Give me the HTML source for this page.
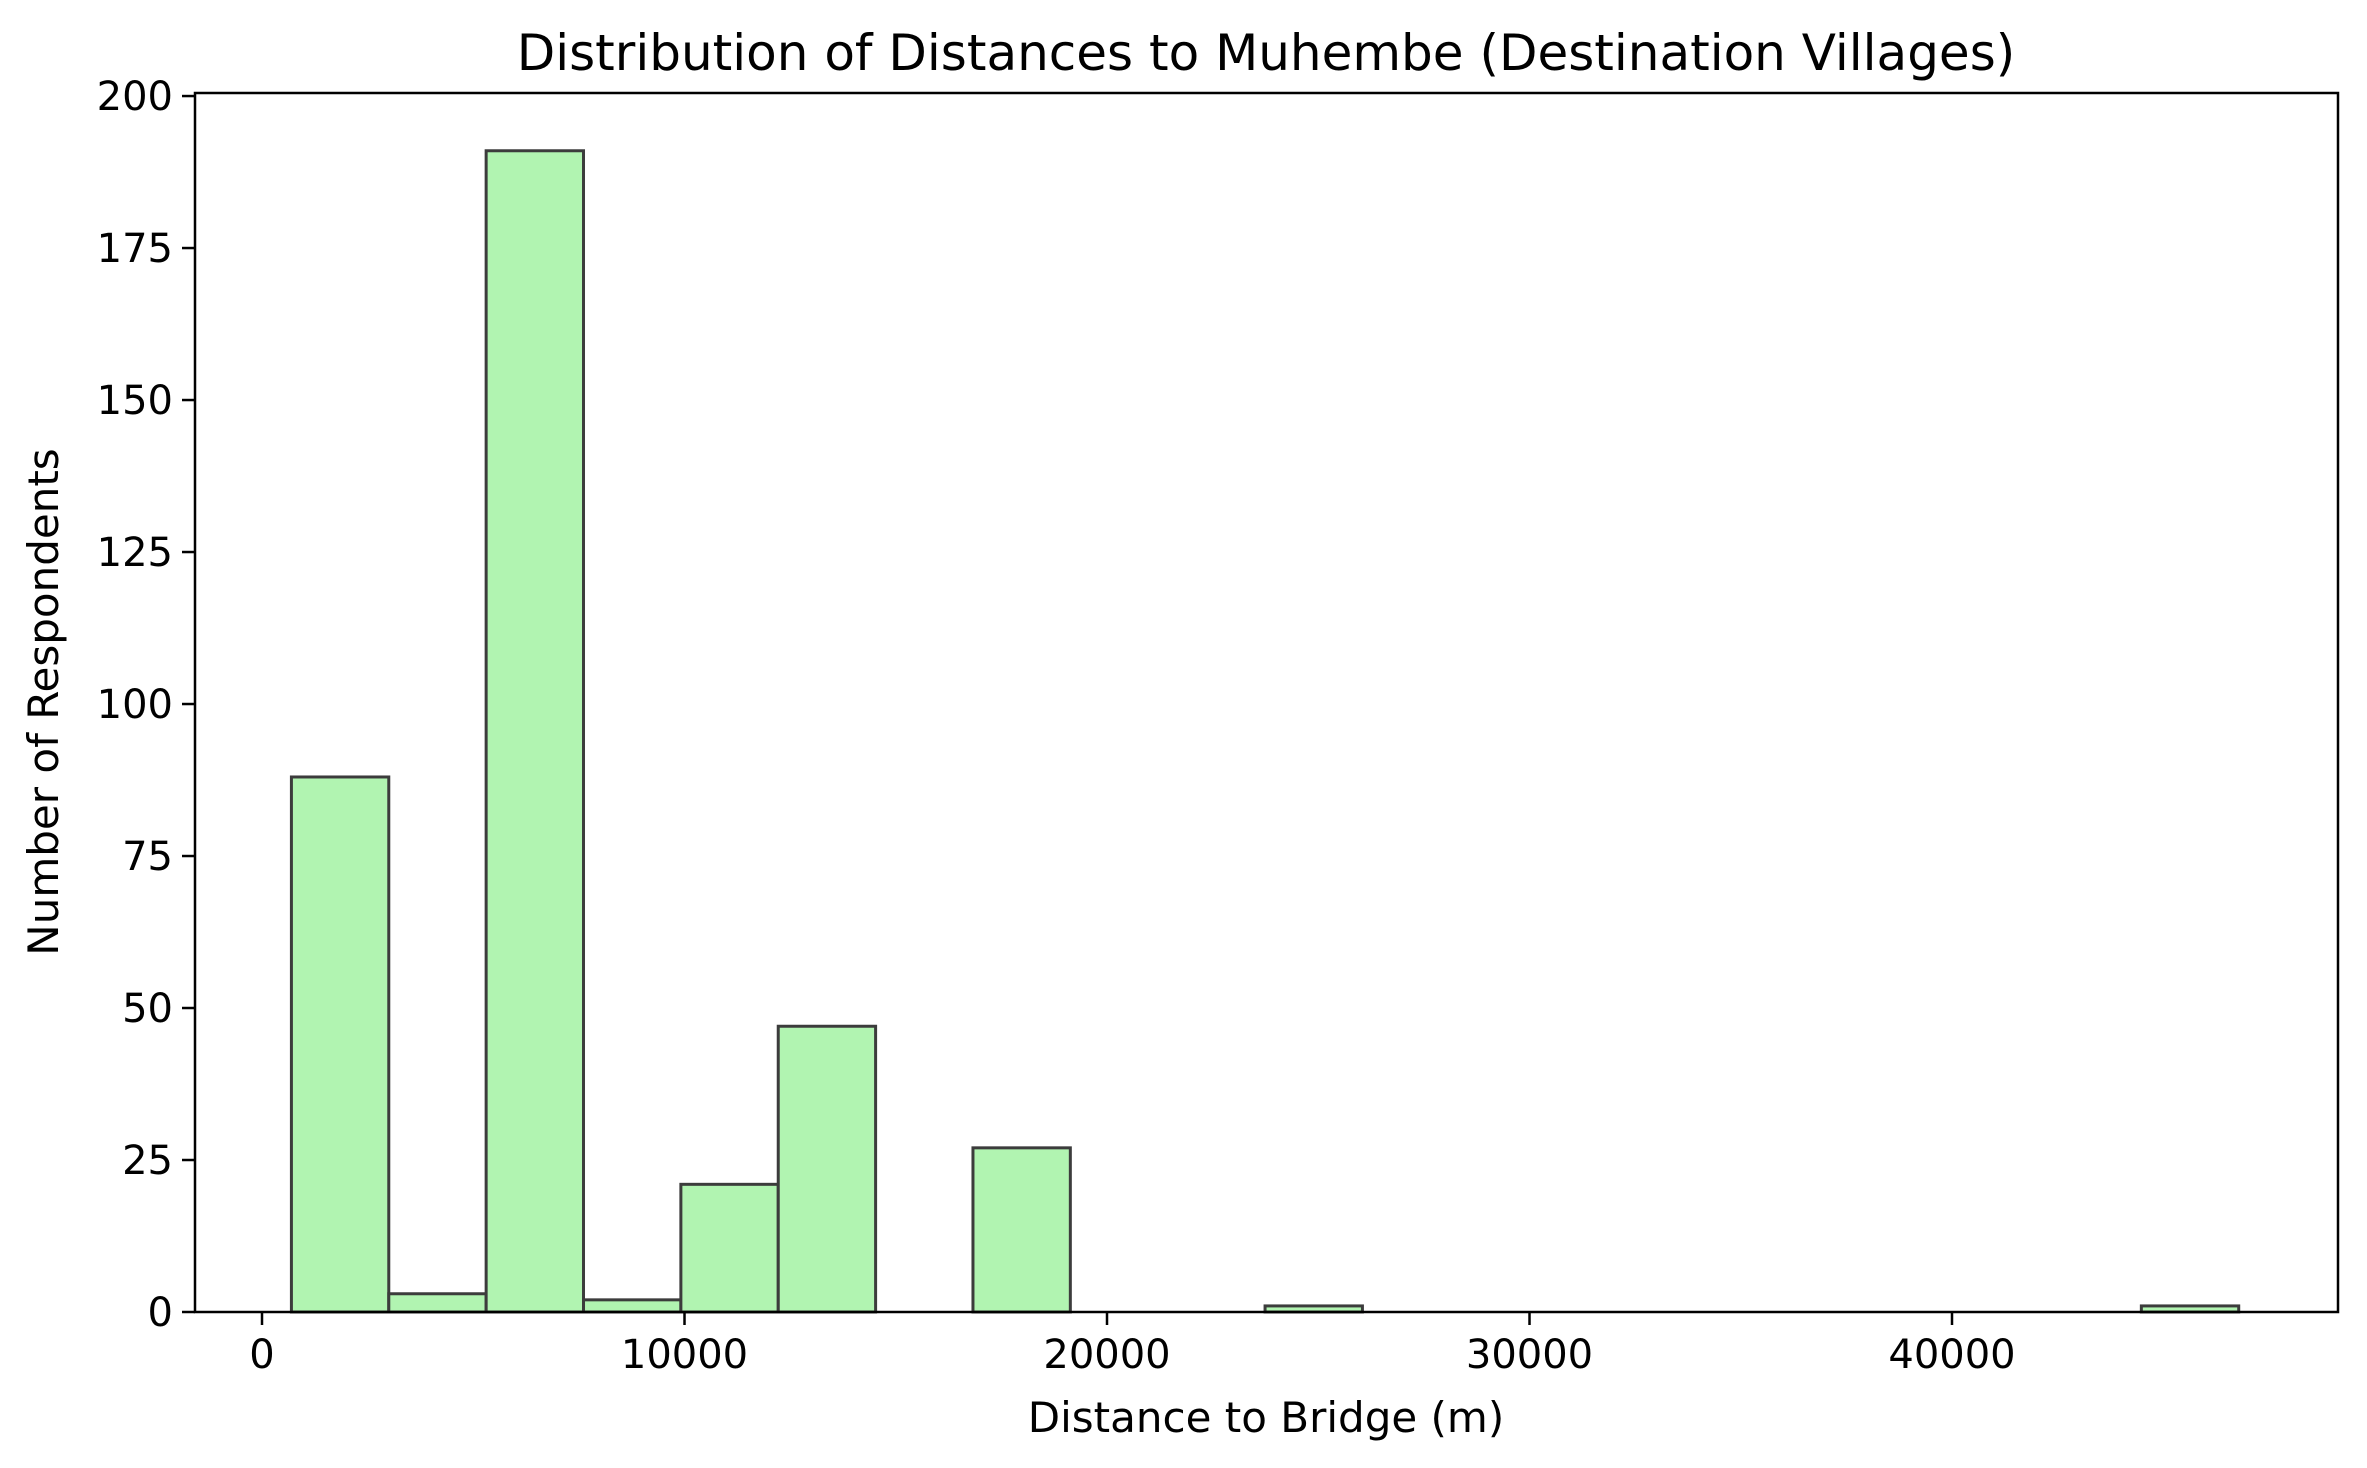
<!DOCTYPE html>
<html><head><meta charset="utf-8"><style>
html,body{margin:0;padding:0;background:#fff;}
svg{display:block;font-family:"DejaVu Sans","Liberation Sans",sans-serif;}
</style></head><body>
<svg id="chart" width="2367" height="1468" viewBox="0 0 2367 1468">
<rect width="2367" height="1468" fill="#fff"/>
<g id="bars"></g>
<g id="axes"></g>
<text x="1266" y="70" text-anchor="middle" font-size="50">Distribution of Distances to Muhembe (Destination Villages)</text>
<text x="1266" y="1432" text-anchor="middle" font-size="42">Distance to Bridge (m)</text>
<text transform="translate(58,702) rotate(-90)" text-anchor="middle" font-size="42">Number of Respondents</text>
</svg>
<script>
const binStart = 696;
const binWidth = 2304.5;
const counts = [88,3,191,2,21,47,0,27,0,0,1,0,0,0,0,0,0,0,0,1];
const xTicks = [0,10000,20000,30000,40000];
const yTicks = [0,25,50,75,100,125,150,175,200];

const L=195,R=2338,T=93,B=1312;
const xMin=-1586,xMax=49136,yMin=0,yMax=200.5;
function xs(v){return L+(v-xMin)/(xMax-xMin)*(R-L);}
function ys(v){return B-(v-yMin)/(yMax-yMin)*(B-T);}
const NS="http://www.w3.org/2000/svg";
const bars=document.getElementById('bars');
counts.forEach((c,i)=>{
  const x0=xs(binStart+i*binWidth),x1=xs(binStart+(i+1)*binWidth);
  const r=document.createElementNS(NS,'rect');
  r.setAttribute('x',x0);r.setAttribute('y',ys(c));
  r.setAttribute('width',x1-x0);r.setAttribute('height',ys(0)-ys(c));
  r.setAttribute('fill','#b1f4b1');r.setAttribute('stroke','#3c3c3c');r.setAttribute('stroke-width','3');
  
  
  bars.appendChild(r);
});
const ax=document.getElementById('axes');
const frame=document.createElementNS(NS,'rect');
frame.setAttribute('x',L);frame.setAttribute('y',T);frame.setAttribute('width',R-L);frame.setAttribute('height',B-T);
frame.setAttribute('fill','none');frame.setAttribute('stroke','#000');frame.setAttribute('stroke-width','2.5');


ax.appendChild(frame);
xTicks.forEach(v=>{
  const x=xs(v);
  const l=document.createElementNS(NS,'line');
  l.setAttribute('x1',x);l.setAttribute('x2',x);l.setAttribute('y1',B);l.setAttribute('y2',B+13);
  l.setAttribute('stroke','#000');l.setAttribute('stroke-width','2.5');
  
  
  ax.appendChild(l);
  const t=document.createElementNS(NS,'text');
  t.setAttribute('x',x);t.setAttribute('y',B+56);t.setAttribute('text-anchor','middle');t.setAttribute('font-size','40');
  t.textContent=v;
  
  
  ax.appendChild(t);
});
yTicks.forEach(v=>{
  const y=ys(v);
  const l=document.createElementNS(NS,'line');
  l.setAttribute('x1',L-13);l.setAttribute('x2',L);l.setAttribute('y1',y);l.setAttribute('y2',y);
  l.setAttribute('stroke','#000');l.setAttribute('stroke-width','2.5');
  
  
  ax.appendChild(l);
  const t=document.createElementNS(NS,'text');
  t.setAttribute('x',L-22);t.setAttribute('y',y+14);t.setAttribute('text-anchor','end');t.setAttribute('font-size','40');
  t.textContent=v;
  
  
  ax.appendChild(t);
});
</script>
</body></html>
